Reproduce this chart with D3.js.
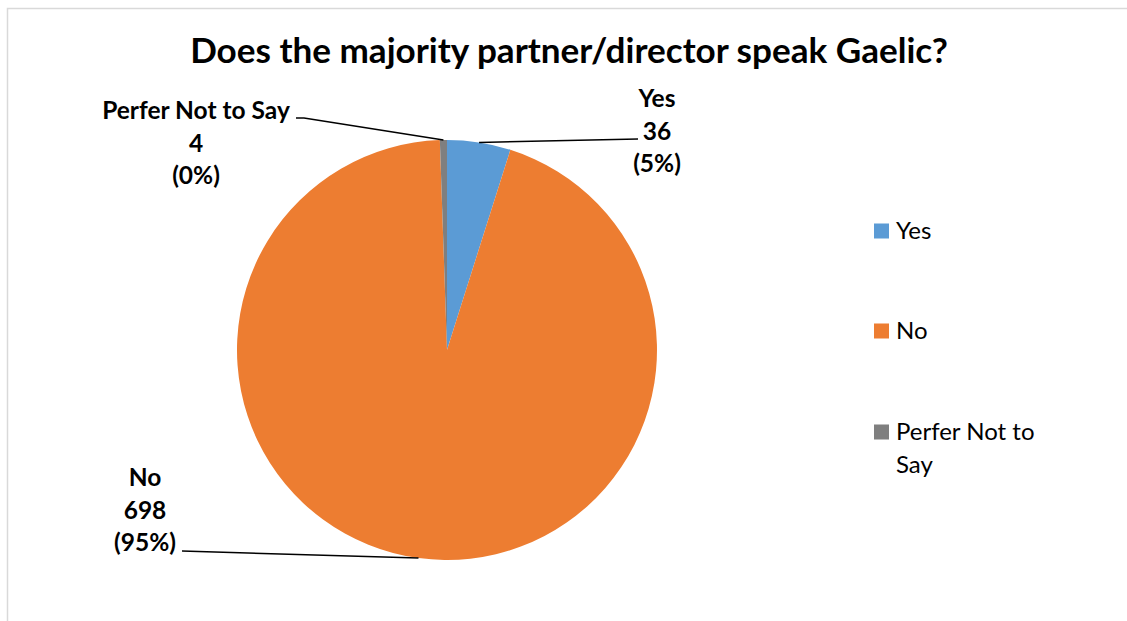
<!DOCTYPE html>
<html>
<head>
<meta charset="utf-8">
<script src="https://cdn.jsdelivr.net/npm/d3@7/dist/d3.min.js"></script>
<style>
  html, body { margin: 0; padding: 0; background: #fff; }
  svg { display: block; }
  text { font-family: Lato, "Open Sans", "Liberation Sans", sans-serif; fill: #000; }
</style>
</head>
<body>
<svg id="chart" width="1127" height="621"></svg>
<script>
// Survey answers
const categories = ["Yes", "No", "Perfer Not to Say"];
const counts = [36, 698, 4];
const colors = ["#5B9BD5", "#ED7D31", "#7F7F7F"];
const title = "Does the majority partner/director speak Gaelic?";

// Where each data label block sits (centre x, first baseline y) and the elbow of its leader
const labelLayout = [
  { x: 657, y: 107, lineEnd: [638, 139], anchor: "middle" },
  { x: 145, y: 486, lineEnd: [182, 551], anchor: "middle" },
  { x: 196, y: 119, lineEnd: [296, 118], elbow: [304, 118], anchor: "middle" }
];

const W = 1127, H = 621;
const cx = 447, cy = 350, R = 210;
const lineH = 32.5;

const svg = d3.select("#chart");

// chart area frame
svg.append("rect")
  .attr("x", 7.5).attr("y", 8.5)
  .attr("width", W + 10).attr("height", H + 10)
  .attr("fill", "#fff").attr("stroke", "#D9D9D9").attr("stroke-width", 1.5);

// title
const t = svg.append("text")
  .attr("x", 569).attr("y", 63)
  .attr("text-anchor", "middle")
  .attr("font-weight", "bold")
  .attr("font-size", 31)
  .text(title);
// fit the title to its target width
const tw = t.node().getComputedTextLength();
t.attr("font-size", 31 * 758 / tw);

const total = d3.sum(counts);
const data = categories.map((c, i) => ({ name: c, value: counts[i], color: colors[i] }));

// whole-number percentages that add up to 100 (largest remainder)
function roundedPercents(vals) {
  const raw = vals.map(v => 100 * v / d3.sum(vals));
  const fl = raw.map(Math.floor);
  let left = 100 - d3.sum(fl);
  const order = raw.map((r, i) => [r - fl[i], i]).sort((a, b) => b[0] - a[0]);
  for (let k = 0; k < left; k++) fl[order[k][1]] += 1;
  return fl;
}
const pcts = roundedPercents(counts);

const pie = d3.pie().value(d => d.value).sort(null).startAngle(0).endAngle(2 * Math.PI);
const arcs = pie(data);
const arc = d3.arc().innerRadius(0).outerRadius(R);

const g = svg.append("g").attr("transform", `translate(${cx},${cy})`);
g.selectAll("path.slice")
  .data(arcs)
  .join("path")
  .attr("class", "slice")
  .attr("d", arc)
  .attr("fill", d => d.data.color);

// leader lines from the slice rim (mid-angle) to the label
arcs.forEach((a, i) => {
  const mid = (a.startAngle + a.endAngle) / 2;
  const p0 = [cx + R * Math.sin(mid), cy - R * Math.cos(mid)];
  const L = labelLayout[i];
  const pts = [p0];
  if (L.elbow) pts.push(L.elbow);
  pts.push(L.lineEnd);
  svg.append("path")
    .attr("d", d3.line()(pts))
    .attr("fill", "none")
    .attr("stroke", "#000")
    .attr("stroke-width", 1.5);
});

// data labels: category, value, percentage
arcs.forEach((a, i) => {
  const L = labelLayout[i];
  const lines = [a.data.name, String(a.data.value), `(${pcts[i]}%)`];
  const txt = svg.append("text")
    .attr("text-anchor", L.anchor)
    .attr("font-weight", "bold")
    .attr("font-size", 24.5);
  lines.forEach((s, k) => {
    txt.append("tspan").attr("x", L.x).attr("y", L.y + k * lineH).text(s);
  });
});

// legend
const legendY = [231, 331, 432];
const legend = svg.append("g");
data.forEach((d, i) => {
  legend.append("rect")
    .attr("x", 874).attr("y", legendY[i] - 7.5)
    .attr("width", 15).attr("height", 15)
    .attr("fill", d.color);
  const txt = legend.append("text")
    .attr("font-size", 24)
    .attr("x", 896).attr("y", legendY[i] + 8);
  if (d.name === "Perfer Not to Say") {
    txt.append("tspan").attr("x", 896).attr("y", legendY[i] + 8).text("Perfer Not to");
    txt.append("tspan").attr("x", 896).attr("y", legendY[i] + 8 + lineH).text("Say");
  } else {
    txt.text(d.name);
  }
});
</script>
</body>
</html>
